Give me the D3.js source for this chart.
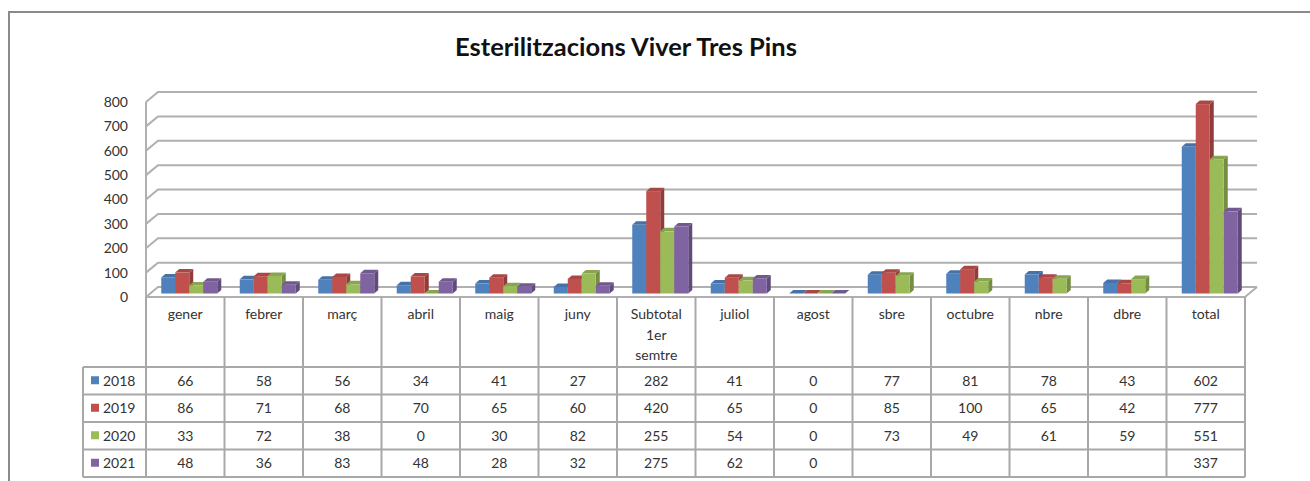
<!DOCTYPE html>
<html>
<head>
<meta charset="utf-8">
<script src="https://cdn.jsdelivr.net/npm/d3@7"></script>
<style>
  body { margin: 0; background: #fff; }
  text { font-family: Lato, "Open Sans", sans-serif; fill: #333; }
</style>
</head>
<body>
<script>
// the data
let categories = ["gener", "febrer", "març", "abril", "maig", "juny", "Subtotal 1er semtre",
  "juliol", "agost", "sbre", "octubre", "nbre", "dbre", "total"];
let years = ["2018", "2019", "2020", "2021"];
let values2018 = [66, 58, 56, 34, 41, 27, 282, 41, 0, 77, 81, 78, 43, 602];
let values2019 = [86, 71, 68, 70, 65, 60, 420, 65, 0, 85, 100, 65, 42, 777];
let values2020 = [33, 72, 38, 0, 30, 82, 255, 54, 0, 73, 49, 61, 59, 551];
let values2021 = [48, 36, 83, 48, 28, 32, 275, 62, 0, null, null, null, null, 337];
let yTicks = [0, 100, 200, 300, 400, 500, 600, 700, 800];
let colors = ["#4f81bd", "#c0504d", "#9bbb59", "#8064a2"];

let series = [values2018, values2019, values2020, values2021];

let W = 1310, H = 481;

// the plot's front plane
let left = 146, right = 1245, floorY = 297, topY = 102;
// 3D depth of the back wall and where bars stand
let depth = {dx: 12, dy: -10};
let barDepth = {dx: 4, dy: -3.5};
let barThick = {dx: 4, dy: -3.5};

let svg = d3.select("body").append("svg")
  .attr("width", W)
  .attr("height", H);

// outer frame (only left and top are visible in the picture)
svg.append("path")
  .attr("d", "M9," + H + "V12H" + W)
  .attr("fill", "none")
  .attr("stroke", "#8a8a8a")
  .attr("stroke-width", 2);

// title
svg.append("text")
  .attr("x", 626)
  .attr("y", 56)
  .attr("text-anchor", "middle")
  .style("font-size", "25.5px")
  .style("font-weight", "bold")
  .style("fill", "#111")
  .text("Esterilitzacions Viver Tres Pins");

// scales
let x = d3.scaleBand().domain(categories).range([left, right]);
let y = d3.scaleLinear().domain([0, 800]).range([floorY, topY]);

// back wall gridlines, with the little diagonal on the left wall
let grid = svg.append("g")
  .attr("fill", "none")
  .attr("stroke", "#b0b0b0")
  .attr("stroke-width", 2);

grid.selectAll("path")
  .data(yTicks)
  .join("path")
  .attr("d", function(d) {
    return "M" + left + "," + y(d) + "L" + (left + depth.dx) + "," + (y(d) + depth.dy) +
      "H" + (right + depth.dx);
  });

// left wall edge and the floor's right edge
grid.append("path")
  .attr("d", "M" + left + "," + y(800) + "V" + floorY + "H" + right +
    "L" + (right + depth.dx) + "," + (floorY + depth.dy));

// y axis labels
svg.append("g").selectAll("text")
  .data(yTicks)
  .join("text")
  .attr("x", 128)
  .attr("y", function(d) { return y(d); })
  .attr("dy", "0.35em")
  .attr("text-anchor", "end")
  .style("font-size", "14px")
  .text(function(d) { return d; });

// the bars, drawn left to right so each front face hides the side before it
let barW = 14;
let pad = (x.bandwidth() - barW * years.length) / 2;

let bars = [];
categories.forEach(function(c, i) {
  series.forEach(function(s, j) {
    if (s[i] === null) return;
    bars.push({cat: c, year: j, value: s[i]});
  });
});

let barG = svg.append("g").selectAll("g")
  .data(bars)
  .join("g");

function barBox(d) {
  let x0 = x(d.cat) + barDepth.dx + pad + d.year * barW;
  let y0 = y(0) + barDepth.dy;
  let y1 = y(d.value) + barDepth.dy;
  return {x0: x0, x1: x0 + barW, y0: y0, y1: y1};
}

// side face
barG.append("path")
  .attr("d", function(d) {
    let b = barBox(d);
    return "M" + b.x1 + "," + b.y0 + "L" + (b.x1 + barThick.dx) + "," + (b.y0 + barThick.dy) +
      "V" + (b.y1 + barThick.dy) + "L" + b.x1 + "," + b.y1 + "Z";
  })
  .attr("fill", function(d) { return d3.color(colors[d.year]).darker(0.8); });

// top face
barG.append("path")
  .attr("d", function(d) {
    let b = barBox(d);
    return "M" + b.x0 + "," + b.y1 + "L" + (b.x0 + barThick.dx) + "," + (b.y1 + barThick.dy) +
      "H" + (b.x1 + barThick.dx) + "L" + b.x1 + "," + b.y1 + "Z";
  })
  .attr("fill", function(d) { return d3.color(colors[d.year]).darker(0.35); });

// front face
barG.append("rect")
  .attr("x", function(d) { return barBox(d).x0; })
  .attr("y", function(d) { return barBox(d).y1; })
  .attr("width", barW)
  .attr("height", function(d) { let b = barBox(d); return b.y0 - b.y1; })
  .attr("fill", function(d) { return colors[d.year]; });

// data table under the plot
let rowTop = 367, rowH = 27.5, legendLeft = 83;
let rowY = function(r) { return rowTop + r * rowH; };

let table = svg.append("g")
  .attr("fill", "none")
  .attr("stroke", "#a8a8a8")
  .attr("stroke-width", 2);

// column lines
table.selectAll(".col")
  .data(categories.concat(["end"]))
  .join("path")
  .attr("class", "col")
  .attr("d", function(d) {
    let cx = d === "end" ? right : x(d);
    return "M" + cx + "," + floorY + "V" + rowY(years.length);
  });

// row lines
table.selectAll(".row")
  .data(d3.range(years.length + 1))
  .join("path")
  .attr("class", "row")
  .attr("d", function(r) { return "M" + legendLeft + "," + rowY(r) + "H" + right; });

table.append("path")
  .attr("d", "M" + legendLeft + "," + rowY(0) + "V" + rowY(years.length));

// category labels, wrapped over lines
svg.append("g").selectAll("text")
  .data(categories)
  .join("text")
  .attr("x", function(d) { return x(d) + x.bandwidth() / 2; })
  .attr("y", 319)
  .attr("text-anchor", "middle")
  .style("font-size", "14px")
  .each(function(d) {
    let words = d === "Subtotal 1er semtre" ? ["Subtotal", "1er", "semtre"] : [d];
    let t = d3.select(this);
    words.forEach(function(w, k) {
      t.append("tspan")
        .attr("x", x(d) + x.bandwidth() / 2)
        .attr("dy", k === 0 ? 0 : 20.5)
        .text(w);
    });
  });

// legend keys in the first column
let legend = svg.append("g").selectAll("g")
  .data(years)
  .join("g")
  .attr("transform", function(d, i) { return "translate(0," + (rowY(i) + rowH / 2) + ")"; });

legend.append("rect")
  .attr("x", 91)
  .attr("y", -4.5)
  .attr("width", 8)
  .attr("height", 8)
  .attr("fill", function(d, i) { return colors[i]; });

legend.append("text")
  .attr("x", 103)
  .attr("dy", "0.35em")
  .style("font-size", "14px")
  .text(function(d) { return d; });

// the values in the cells
series.forEach(function(s, j) {
  svg.append("g").selectAll("text")
    .data(categories)
    .join("text")
    .attr("x", function(d) { return x(d) + x.bandwidth() / 2; })
    .attr("y", rowY(j) + rowH / 2)
    .attr("dy", "0.35em")
    .attr("text-anchor", "middle")
    .style("font-size", "14px")
    .text(function(d, i) { return s[i] === null ? "" : s[i]; });
});
</script>
</body>
</html>
